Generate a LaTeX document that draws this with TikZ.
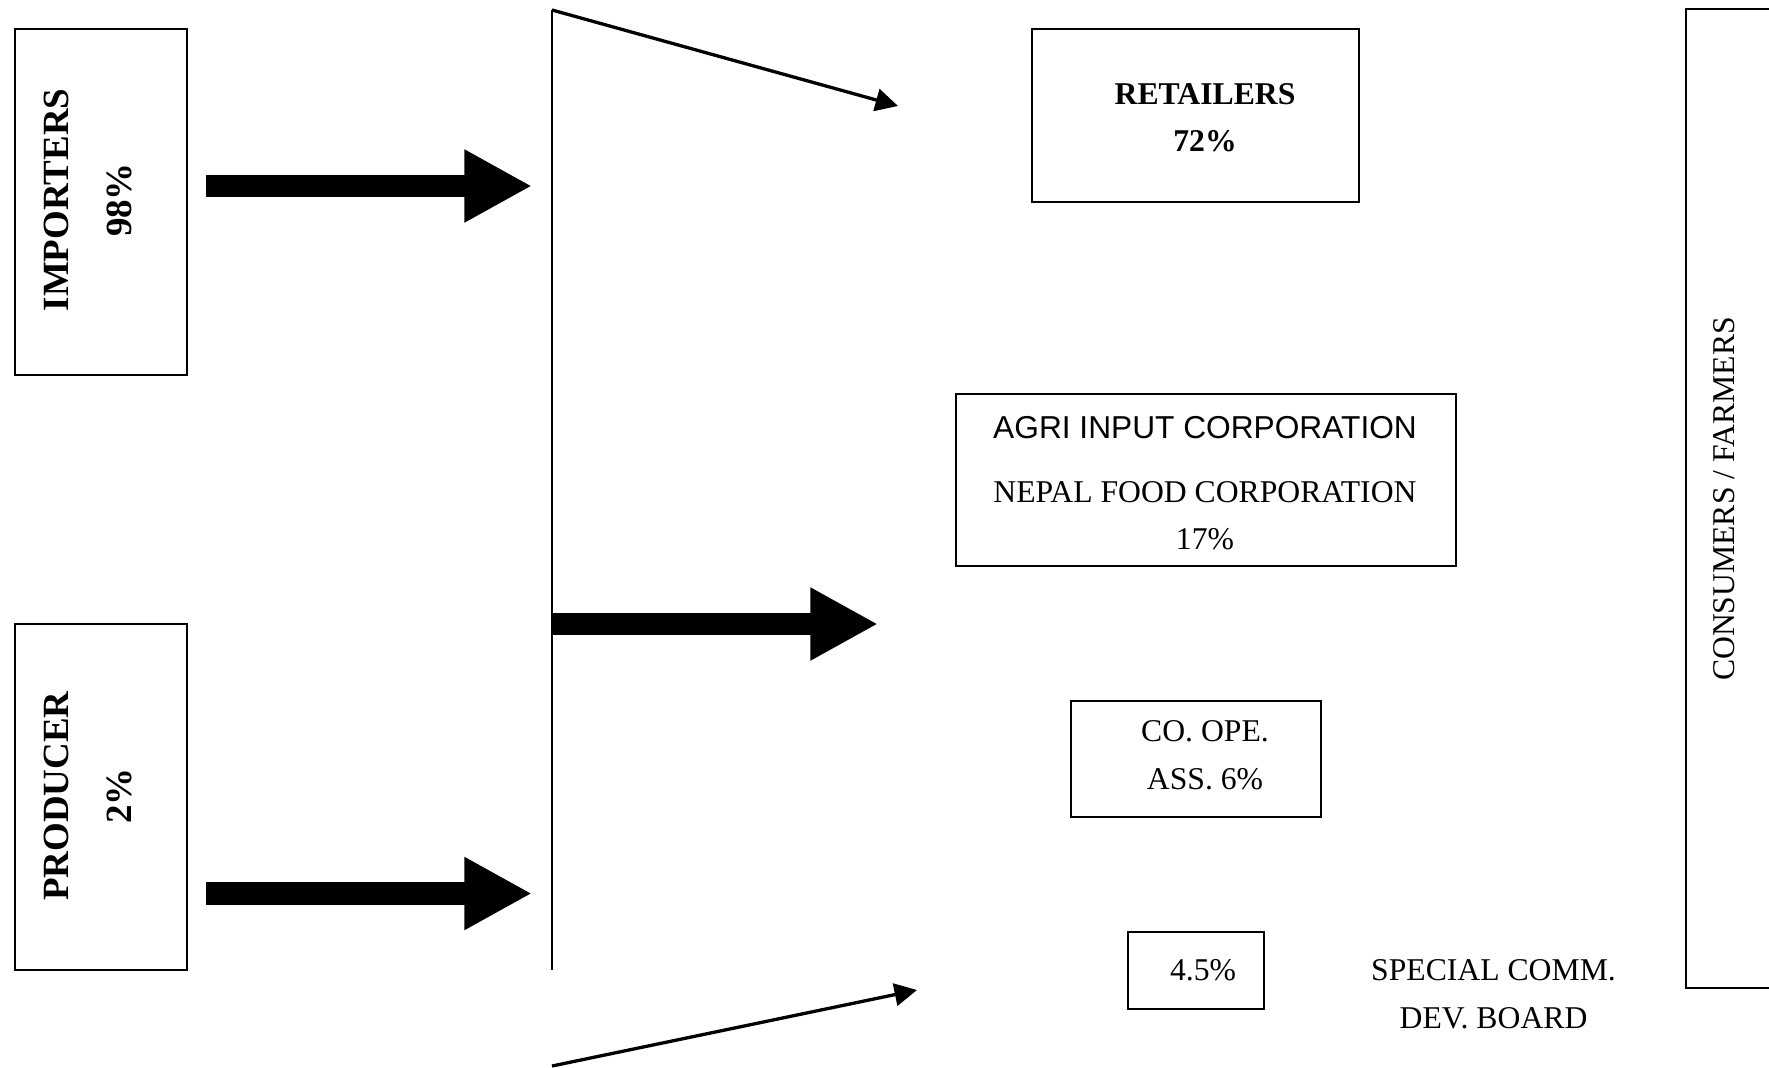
\documentclass[tikz,border=0pt]{standalone}
\usepackage{fontspec}
\setmainfont{Liberation Serif}
\setsansfont{Liberation Sans}
\usetikzlibrary{arrows.meta}

\begin{document}
\begin{tikzpicture}[
    x=0.3788pt, y=-0.3788pt,
    flowbox/.style={rectangle, draw=black, line width=0.7pt, inner sep=0pt},
    boxtext/.style={align=center, inner sep=0pt, font=\fontsize{12}{18}\selectfont},
    sidetext/.style={align=center, inner sep=0pt, rotate=90, font=\fontsize{14}{23.5}\selectfont\bfseries},
    fatarrow/.style={line width=8.5pt, -{Triangle[length=25.6pt, width=25.8pt]}},
    thinarrow/.style={line width=1.25pt, -{Triangle[length=8.5pt, width=8.5pt]}}
  ]
  \useasboundingbox (0,0) rectangle (1769,1067);
  \clip (0,0) rectangle (1769,1067);

  % Importers box
  \node[flowbox, minimum width=65.2pt, minimum height=131.1pt] (importers) at (101,202) {};
  \node[sidetext] (importerstext) at (88,200) {IMPORTERS\\98\%};

  % Producer box
  \node[flowbox, minimum width=65.2pt, minimum height=131.1pt] (producer) at (101,797) {};
  \node[sidetext] (producertext) at (88,796) {PRODUCER\\2\%};

  % Collecting line
  \coordinate (spinetop) at (552,10);
  \coordinate (spinebot) at (552,970);
  \draw[line width=0.6pt] (spinetop) -- (spinebot);

  % Fat arrows into and out of the line
  \coordinate (impfrom) at (206,186);
  \coordinate (impto) at (532,186);
  \coordinate (prodfrom) at (206,893.5);
  \coordinate (prodto) at (532,893.5);
  \coordinate (midfrom) at (552,624);
  \coordinate (midto) at (878,624);
  \draw[fatarrow] (impfrom) -- (impto);
  \draw[fatarrow] (prodfrom) -- (prodto);
  \draw[fatarrow] (midfrom) -- (midto);

  % Slanted arrows
  \coordinate (toptip) at (898,106);
  \coordinate (lowstart) at (552,1066);
  \coordinate (lowtip) at (917,990);
  \draw[thinarrow] (spinetop) -- (toptip);
  \draw[thinarrow] (lowstart) -- (lowtip);

  % Retailers box
  \node[flowbox, minimum width=123.9pt, minimum height=65.5pt] (retailers) at (1195.5,115.5) {};
  \node[boxtext, font=\fontsize{12}{17.8}\selectfont\bfseries] (retailerstext) at (1205,117.5) {RETAILERS\\72\%};

  % Corporations box
  \node[flowbox, minimum width=189.4pt, minimum height=65.2pt] (corps) at (1205.7,480) {};
  \node[boxtext, font=\fontsize{12}{18}\selectfont\sffamily] (agritext) at (1205,428) {AGRI INPUT CORPORATION};
  \node[boxtext] (foodtext) at (1205,515.5) {NEPAL FOOD CORPORATION\\17\%};

  % Co-operative box
  \node[flowbox, minimum width=94.7pt, minimum height=43.8pt] (coop) at (1196,758.8) {};
  \node[boxtext] (cooptext) at (1205,755) {CO. OPE.\\ASS. 6\%};

  % Special board box
  \node[flowbox, minimum width=51.5pt, minimum height=29.2pt] (board) at (1196,970.5) {};
  \node[boxtext] (boardpct) at (1203,970) {4.5\%};
  \node[boxtext] (boardtext) at (1493.5,994) {SPECIAL COMM.\\DEV. BOARD};

  % Consumers box
  \node[flowbox, minimum width=39.4pt, minimum height=370.9pt] (consumers) at (1738,498.5) {};
  \node[boxtext, rotate=90] (consumerstext) at (1724,499) {CONSUMERS / FARMERS};
\end{tikzpicture}
\end{document}
